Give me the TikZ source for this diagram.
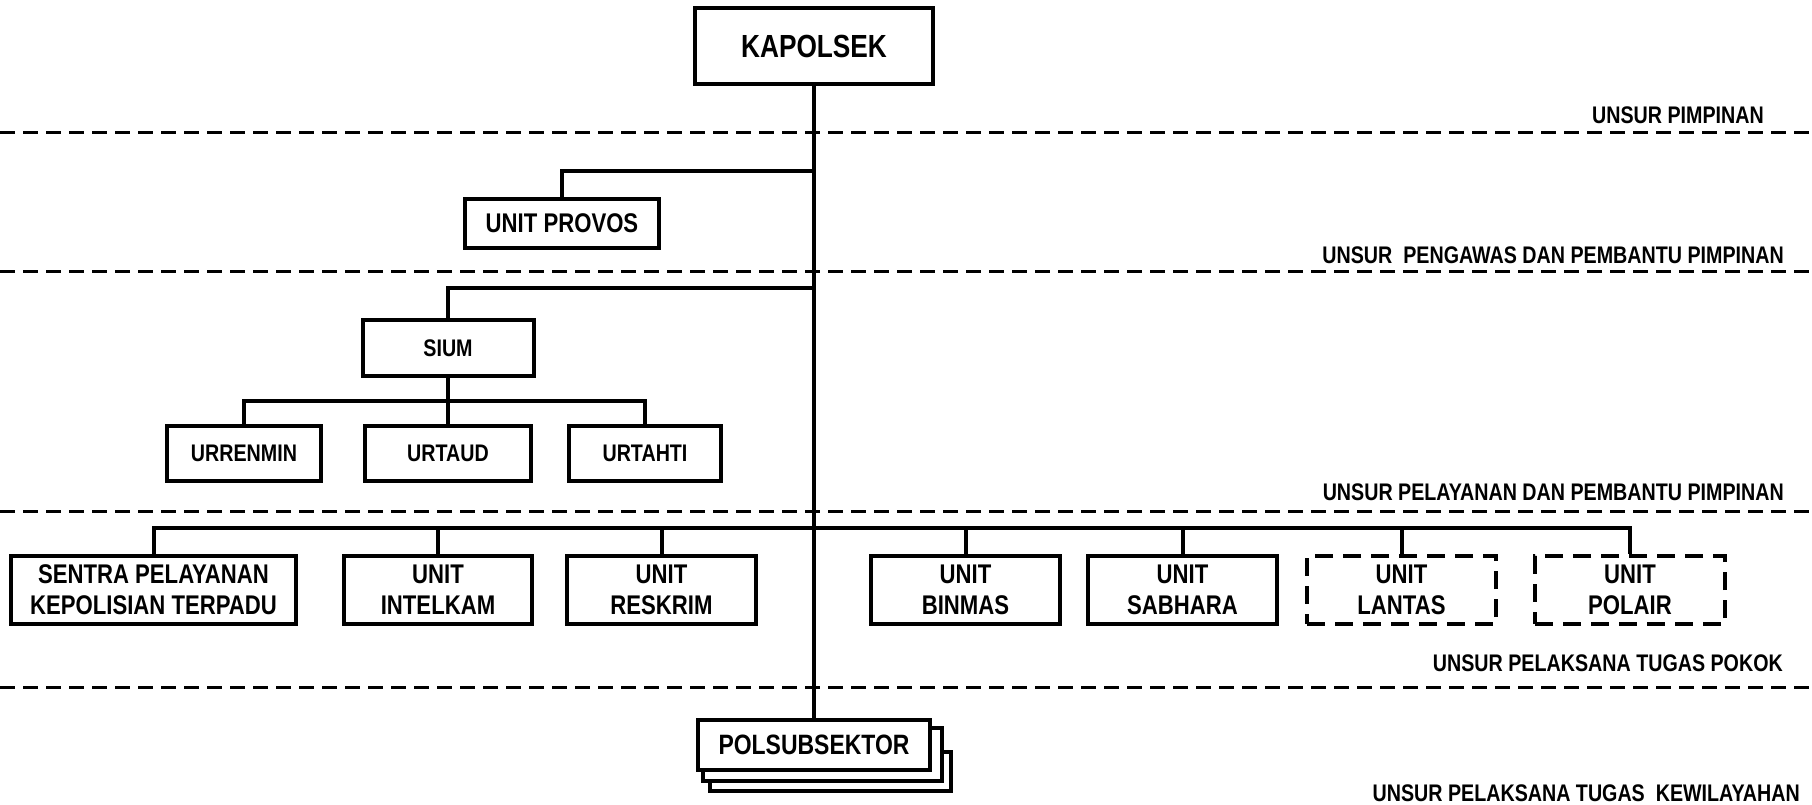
\documentclass[tikz,border=0pt]{standalone}
\usepackage{fontspec}
\setmainfont{Liberation Sans}[FakeStretch=0.82]
\begin{document}
\begin{tikzpicture}[x=1pt,y=-1pt,
  box/.style={draw, line width=4pt, fill=white, inner sep=0pt, align=center,
    font=\bfseries\fontsize{27}{31}\selectfont},
  dbox/.style={box, dash pattern=on 18pt off 10pt},
  conn/.style={line width=4pt},
  sepline/.style={line width=3pt, dash pattern=on 15pt off 8pt},
  lab/.style={anchor=east, inner sep=0pt, font=\bfseries\fontsize{24}{25}\selectfont}]
\useasboundingbox[fill=white] (0,0) rectangle (1812,804);

% separator lines
\foreach \yy in {132,271,511,687} \draw[sepline] (0,\yy) -- (1812,\yy);

% labels
\node[lab] (l1) at (1764,115) {UNSUR PIMPINAN};
\node[lab] (l2) at (1784,255) {UNSUR~ PENGAWAS DAN PEMBANTU PIMPINAN};
\node[lab] (l3) at (1784,492) {UNSUR PELAYANAN DAN PEMBANTU PIMPINAN};
\node[lab] (l4) at (1783,663) {UNSUR PELAKSANA TUGAS POKOK};
\node[lab] (l5) at (1800,793) {UNSUR PELAKSANA TUGAS~ KEWILAYAHAN};

% boxes
\node[box, minimum width=238pt, minimum height=76pt, font=\bfseries\fontsize{32}{33}\selectfont] (kapolsek) at (814,46) {KAPOLSEK};
\node[box, minimum width=194pt, minimum height=49pt] (provos) at (562,223.5) {UNIT PROVOS};
\node[box, minimum width=171pt, minimum height=56pt, font=\bfseries\fontsize{24}{25}\selectfont] (sium) at (448,348) {SIUM};
\node[box, minimum width=154pt, minimum height=55pt, font=\bfseries\fontsize{24}{25}\selectfont] (urrenmin) at (244,453.5) {URRENMIN};
\node[box, minimum width=166pt, minimum height=55pt, font=\bfseries\fontsize{24}{25}\selectfont] (urtaud) at (448,453.5) {URTAUD};
\node[box, minimum width=152pt, minimum height=55pt, font=\bfseries\fontsize{24}{25}\selectfont] (urtahti) at (645,453.5) {URTAHTI};

\node[box, minimum width=285pt, minimum height=68pt] (sentra) at (153.5,590) {SENTRA PELAYANAN\\KEPOLISIAN TERPADU};
\node[box, minimum width=188pt, minimum height=68pt] (intelkam) at (438,590) {UNIT\\INTELKAM};
\node[box, minimum width=189pt, minimum height=68pt] (reskrim) at (661.5,590) {UNIT\\RESKRIM};
\node[box, minimum width=189pt, minimum height=68pt] (binmas) at (965.5,590) {UNIT\\BINMAS};
\node[box, minimum width=189pt, minimum height=68pt] (sabhara) at (1182.5,590) {UNIT\\SABHARA};
\node[dbox, minimum width=189pt, minimum height=68pt] (lantas) at (1401.5,590) {UNIT\\LANTAS};
\node[dbox, minimum width=190pt, minimum height=68pt] (polair) at (1630,590) {UNIT\\POLAIR};

\node[box, minimum width=241pt, minimum height=39pt] (ps3) at (830.5,771.5) {};
\node[box, minimum width=239pt, minimum height=53pt] (ps2) at (822.5,754.5) {};
\node[box, minimum width=232pt, minimum height=50pt, font=\bfseries\fontsize{28}{29}\selectfont] (ps1) at (814,745) {POLSUBSEKTOR};

% connectors
\draw[conn] (kapolsek.south) -- (ps1.north);
\coordinate (jprovos) at (814,171);
\draw[conn] (jprovos) -| (provos.north);
\coordinate (jsium) at (814,288);
\draw[conn] (jsium) -| (sium.north);
\draw[conn] (sium.south) -- (urtaud.north);
\coordinate (jsub) at (448,401);
\draw[conn] (urrenmin.north) |- (jsub) -| (urtahti.north);
\coordinate (jbar) at (814,528);
\draw[conn] (sentra.north) |- (jbar) -| (polair.north);
\foreach \n in {intelkam,reskrim,binmas,sabhara,lantas}
  \draw[conn] (\n.north) -- (\n.north |- jbar);
\end{tikzpicture}
\end{document}
